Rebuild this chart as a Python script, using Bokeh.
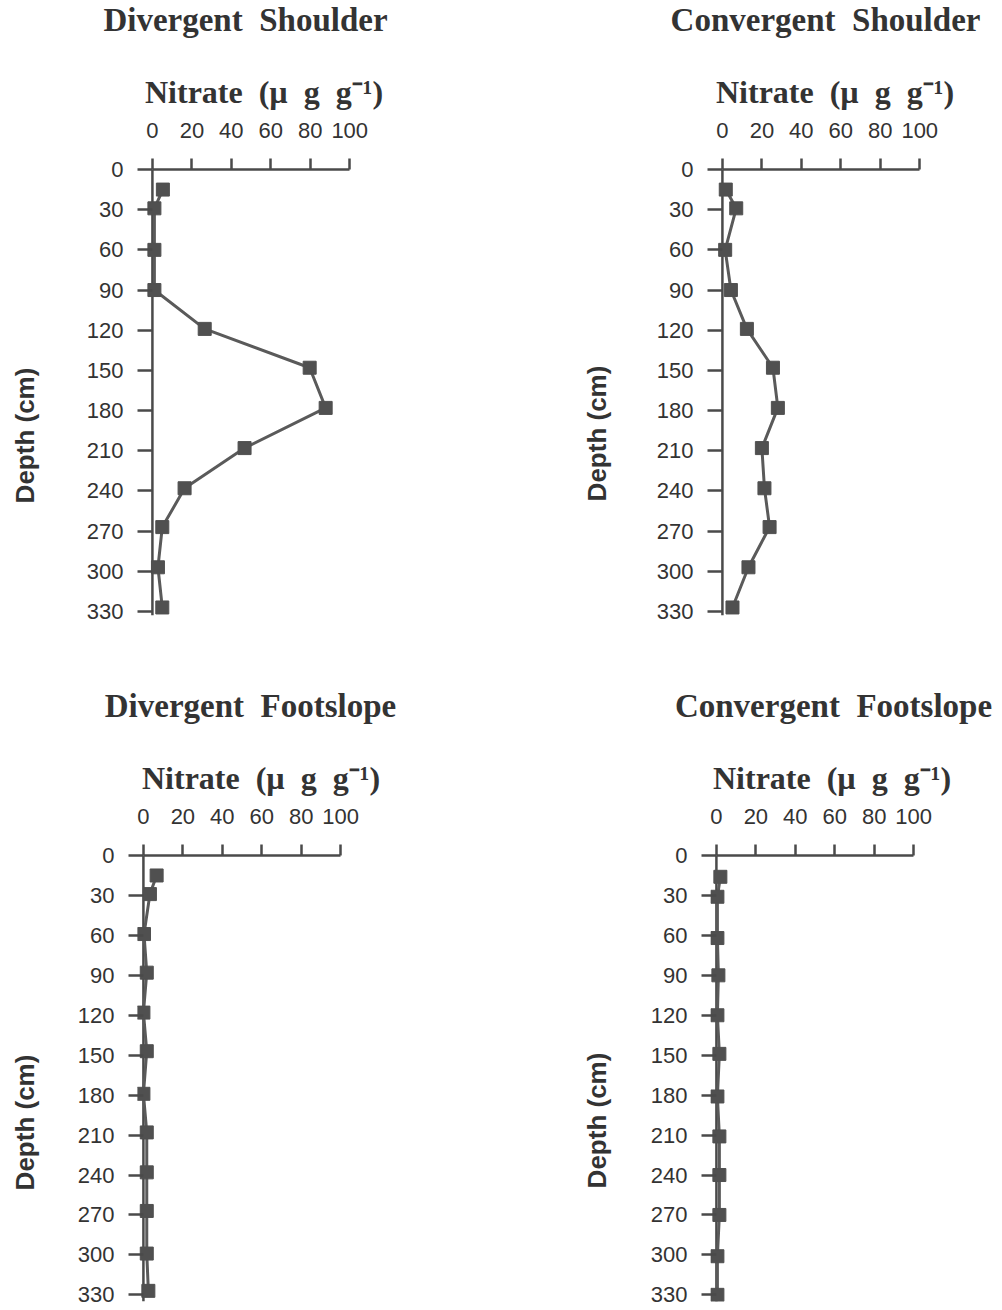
from bokeh.plotting import figure
from bokeh.models import Range1d, FixedTicker, ColumnDataSource, Span, LinearAxis
from bokeh.layouts import column, row
from bokeh.embed import file_html
from bokeh.resources import INLINE

# ---- data ----
NB = "\u00a0 "
titles = ["Divergent" + NB + "Shoulder", "Convergent" + NB + "Shoulder",
          "Divergent" + NB + "Footslope", "Convergent" + NB + "Footslope"]
x_label = "Nitrate" + NB + "(\u00b5" + NB + "g" + NB + "g\u207b\u00b9)"
y_label = "Depth (cm)"
x_ticks = [0, 20, 40, 60, 80, 100]
y_ticks = [0, 30, 60, 90, 120, 150, 180, 210, 240, 270, 300, 330]

depth_ds = [15, 29, 60, 90, 119, 148, 178, 208, 238, 267, 297, 327]
nitrate_ds = [5.3, 1.0, 1.0, 1.0, 26.5, 79.7, 87.8, 46.7, 16.3, 5.0, 2.8, 5.0]

depth_cs = [15, 29, 60, 90, 119, 148, 178, 208, 238, 267, 297, 327]
nitrate_cs = [1.7, 7.0, 1.4, 4.3, 12.4, 25.6, 28.1, 20.0, 21.3, 23.9, 13.2, 5.1]

depth_df = [15, 29, 59, 88, 118, 147, 179, 208, 238, 267, 299, 327]
nitrate_df = [6.7, 3.3, 0.3, 1.7, 0.0, 1.7, 0.0, 1.7, 1.7, 1.7, 1.7, 2.5]

depth_cf = [16, 31, 62, 90, 120, 149, 181, 211, 240, 270, 301, 330]
nitrate_cf = [2.0, 0.5, 0.5, 1.0, 0.5, 1.5, 0.5, 1.5, 1.5, 1.5, 0.5, 0.5]

INK = "#4a4a4a"
TXT = "#333333"


def label_axis(text, font, size, style, standoff):
    """An axis without ticks that only carries a text label."""
    ax = LinearAxis(ticker=FixedTicker(ticks=[]),
                    axis_line_color=None, major_tick_line_color=None,
                    minor_tick_line_color=None, major_tick_out=0, major_tick_in=0,
                    minor_tick_out=0, minor_tick_in=0)
    ax.axis_label = text
    ax.axis_label_text_font = font
    ax.axis_label_text_font_size = size
    ax.axis_label_text_font_style = style
    ax.axis_label_text_color = TXT
    ax.axis_label_standoff = standoff
    return ax


def blank(width_left, frame_w, width_right, top, frame_h, bottom):
    p = figure(frame_width=frame_w, frame_height=frame_h, title=None,
               x_range=Range1d(0, 1), y_range=Range1d(0, 1),
               x_axis_location=None, y_axis_location=None,
               output_backend="svg", toolbar_location=None, frame_align=False,
               min_border_left=width_left, min_border_right=width_right,
               min_border_top=top, min_border_bottom=bottom)
    p.outline_line_color = None
    p.grid.visible = False
    p.background_fill_color = "white"
    p.border_fill_color = "white"
    return p


def title_fig(text, left, right):
    t = blank(left, 20, right, 0, 1, 49)
    t.add_layout(label_axis(text, "Liberation Serif", "33px", "bold", 0), "below")
    return t


def depth_fig(left, top, bottom):
    d = blank(left, 1, 0, top, 2, bottom)
    d.add_layout(label_axis(y_label, "Liberation Sans", "26px", "bold", 0), "left")
    return d


def make_panel(depth, nitrate, x_end, frame_w, left, right, top, bottom, frame_h, y_end):
    p = figure(frame_width=frame_w, frame_height=frame_h, title=None,
               x_range=Range1d(-3, x_end), y_range=Range1d(y_end, 0),
               x_axis_location="above", output_backend="svg",
               toolbar_location=None, frame_align=False,
               min_border_left=left, min_border_right=right,
               min_border_top=top, min_border_bottom=bottom)
    p.outline_line_color = None
    p.grid.visible = False
    p.background_fill_color = "white"
    p.border_fill_color = "white"

    xa = p.xaxis[0]
    xa.ticker = FixedTicker(ticks=x_ticks)
    xa.bounds = (0, 100)
    xa.major_label_text_font = "Liberation Sans"
    xa.major_label_text_font_size = "22px"
    xa.major_label_text_color = TXT
    xa.major_label_standoff = 21
    xa.major_tick_out = 11
    xa.major_tick_in = 0
    xa.minor_tick_line_color = None
    xa.axis_line_width = 2.5
    xa.axis_line_color = INK
    xa.major_tick_line_width = 2.5
    xa.major_tick_line_color = INK

    ya = p.yaxis[0]
    ya.ticker = FixedTicker(ticks=y_ticks)
    ya.bounds = (0, 330)
    ya.major_label_text_font = "Liberation Sans"
    ya.major_label_text_font_size = "22px"
    ya.major_label_text_color = TXT
    ya.major_label_standoff = 14
    ya.major_tick_out = 9
    ya.major_tick_in = 6
    ya.minor_tick_line_color = None
    ya.axis_line_color = None
    ya.major_tick_line_width = 2.5
    ya.major_tick_line_color = INK

    p.add_layout(label_axis(x_label, "Liberation Serif", "32px", "bold", 10), "above")

    # the depth axis line sits at nitrate = 0
    p.add_layout(Span(location=0, dimension="height", line_color=INK,
                      line_width=2.5, level="underlay"))

    src = ColumnDataSource(dict(depth=depth, nitrate=nitrate))
    p.line(x="nitrate", y="depth", source=src, line_width=3, line_color="#5a5a5a")
    p.scatter(x="nitrate", y="depth", source=src, marker="square", size=13,
              fill_color="#505050", line_color="#505050")
    return p


# panels
p1 = make_panel(depth_ds, nitrate_ds, 116.1, 235, 106, 189, 119, 71, 446, 333)
p2 = make_panel(depth_cs, nitrate_cs, 117.1, 237, 104, 49, 119, 71, 446, 333)
p3 = make_panel(depth_df, nitrate_df, 122.2, 247, 97, 186, 119, 8, 446, 335)
p4 = make_panel(depth_cf, nitrate_cf, 120.2, 243, 98, 49, 119, 8, 446, 335)

# panel titles
t1 = title_fig(titles[0], 195, 315)
t2 = title_fig(titles[1], 203, 167)
t3 = title_fig(titles[2], 200, 310)
t4 = title_fig(titles[3], 211, 159)

# depth-axis titles
d1 = depth_fig(39, 434, 250)
d2 = depth_fig(41, 432, 252)
d3 = depth_fig(39, 435, 187)
d4 = depth_fig(41, 433, 189)

layout = row(column(d1, d3), column(t1, p1, t3, p3),
             column(d2, d4), column(t2, p2, t4, p4))

with open("out.html", "w") as f:
    f.write(file_html(layout, INLINE))
